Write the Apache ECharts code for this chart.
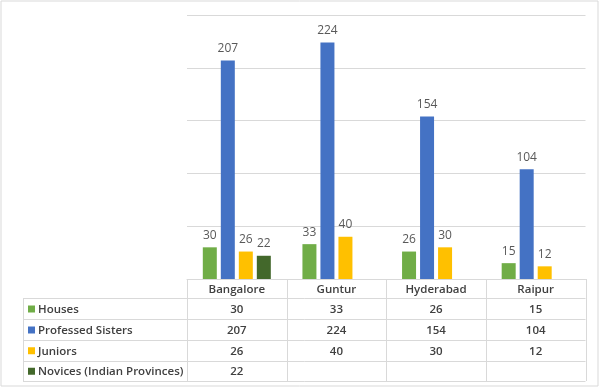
<!DOCTYPE html>
<html>
<head>
<meta charset="utf-8">
<script src="https://cdn.jsdelivr.net/npm/echarts@6/dist/echarts.min.js"></script>
<style>
html,body{margin:0;padding:0;background:#fff;}
#c{width:600px;height:389px;}
</style>
</head>
<body>
<div id="c"></div>
<script>
var categories = ['Bangalore', 'Guntur', 'Hyderabad', 'Raipur'];
var seriesNames = ['Houses', 'Professed Sisters', 'Juniors', 'Novices (Indian Provinces)'];
var houses = [30, 33, 26, 15];
var professedSisters = [207, 224, 154, 104];
var juniors = [26, 40, 30, 12];
var novices = [22, null, null, null];
var colors = ['#70AD47', '#4472C4', '#FFC000', '#43682B'];
var yTicks = [0, 50, 100, 150, 200, 250];

var allData = [houses, professedSisters, juniors, novices];
var FONT = '"Open Sans", "Liberation Sans", sans-serif';
var chart = echarts.init(document.getElementById('c'), null, {renderer: 'canvas'});

var series = allData.map(function (d, i) {
  return {
    name: seriesNames[i],
    type: 'bar',
    data: d.map(function (v) { return v === null ? '-' : v; }),
    barWidth: 14,
    barGap: '28.6%',
    itemStyle: {color: colors[i]},
    label: {
      show: true, position: 'top', distance: 6,
      color: '#595959', fontSize: 12, fontFamily: FONT
    },
    silent: true
  };
});

chart.setOption({
  animation: false,
  backgroundColor: '#fff',
  grid: {left: 187, right: 14.5, top: 15, bottom: 110, containLabel: false},
  xAxis: {
    type: 'category', data: categories,
    axisLine: {show: true, lineStyle: {color: '#D9D9D9'}},
    axisTick: {show: false},
    axisLabel: {show: false}
  },
  yAxis: {
    type: 'value', min: yTicks[0], max: yTicks[yTicks.length - 1], interval: 50,
    axisLine: {show: false}, axisTick: {show: false}, axisLabel: {show: false},
    splitLine: {lineStyle: {color: '#D9D9D9', width: 1}}
  },
  series: series
});

// Build data table
var left = 187, right = 585.5, labelLeft = 23;
var band = (right - left) / categories.length;
var headerTop = chart.convertToPixel({yAxisIndex: 0}, 0);
var rowY = [298, 319, 340, 360.5, 381];
var lineColor = '#D9D9D9';
var TFONT = '600 11.5px ' + FONT;
var g = [];
function hline(x1, x2, y) {
  g.push({type: 'line', silent: true, shape: {x1: x1, y1: y, x2: x2, y2: y}, style: {stroke: lineColor, lineWidth: 1}});
}
function vline(x, y1, y2) {
  g.push({type: 'line', silent: true, shape: {x1: x, y1: y1, x2: x, y2: y2}, style: {stroke: lineColor, lineWidth: 1}});
}
// frame
g.push({type: 'rect', silent: true, shape: {x: 1, y: 1, width: 597, height: 385}, style: {fill: null, stroke: '#D9D9D9', lineWidth: 1}});
// vertical lines
for (var k = 0; k <= categories.length; k++) {
  vline(Math.round(left + k * band) + 0.5, headerTop, rowY[rowY.length - 1]);
}
vline(labelLeft + 0.5, rowY[0], rowY[rowY.length - 1]);
rowY.forEach(function (y) { hline(labelLeft, right, Math.round(y) + 0.5); });

// header texts
categories.forEach(function (c) {
  var cx = chart.convertToPixel({xAxisIndex: 0}, c);
  g.push({type: 'text', silent: true, x: cx, y: (headerTop + rowY[0]) / 2 + 1,
    style: {text: c, fill: '#404040', font: TFONT, textAlign: 'center', textVerticalAlign: 'middle'}});
});
// rows
seriesNames.forEach(function (name, i) {
  var cy = (rowY[i] + rowY[i + 1]) / 2 + 1;
  g.push({type: 'rect', silent: true, shape: {x: labelLeft + 5, y: cy - 4, width: 7, height: 7}, style: {fill: colors[i]}});
  g.push({type: 'text', silent: true, x: labelLeft + 15, y: cy,
    style: {text: name, fill: '#404040', font: TFONT, textAlign: 'left', textVerticalAlign: 'middle'}});
  categories.forEach(function (c, j) {
    var v = allData[i][j];
    if (v === null) return;
    var cx = chart.convertToPixel({xAxisIndex: 0}, c);
    g.push({type: 'text', silent: true, x: cx, y: cy,
      style: {text: String(v), fill: '#404040', font: TFONT, textAlign: 'center', textVerticalAlign: 'middle'}});
  });
});

chart.setOption({graphic: {elements: g}});
</script>
</body>
</html>
